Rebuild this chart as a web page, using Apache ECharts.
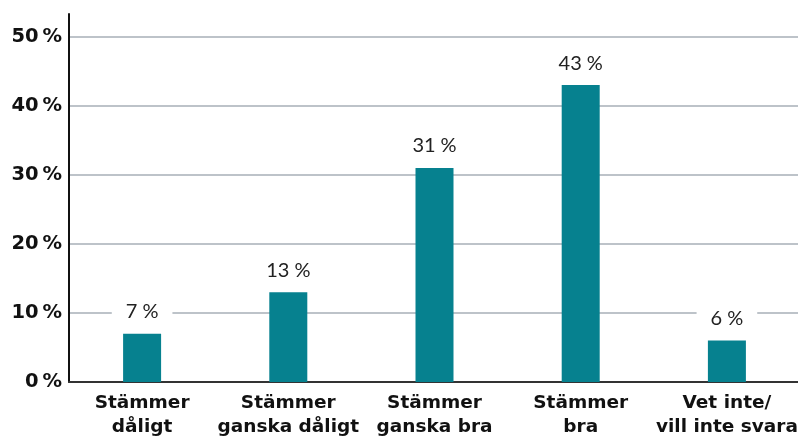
<!DOCTYPE html>
<html>
<head>
<meta charset="utf-8">
<script src="https://cdn.jsdelivr.net/npm/echarts@6/dist/echarts.min.js"></script>
<style>html,body{margin:0;padding:0;background:#fff}#c{width:798px;height:437px}</style>
</head>
<body>
<div id="c"></div>
<script>
const categories = ['Stämmer\ndåligt', 'Stämmer\nganska dåligt', 'Stämmer\nganska bra', 'Stämmer\nbra', 'Vet inte/\nvill inte svara'];
const values = [7, 13, 31, 43, 6];
const yTicks = [0, 10, 20, 30, 40, 50];
const yMax = 53.3;

const chart = echarts.init(document.getElementById('c'), null, {renderer: 'canvas'});
const gridColors = yTicks.map(() => '#a7afb7').concat(['rgba(0,0,0,0)']);
chart.setOption({
  animation: false,
  grid: {left: 69, right: -2, top: 14, bottom: 55, containLabel: false, outerBoundsMode: 'none'},
  xAxis: {
    type: 'category',
    data: categories,
    axisLine: {show: true, lineStyle: {color: '#333', width: 2}},
    axisTick: {show: false},
    axisLabel: {
      interval: 0, margin: 9, color: '#111',
      fontFamily: 'DejaVu Sans', fontWeight: 'bold', fontSize: 18.5, lineHeight: 24
    }
  },
  yAxis: {
    type: 'value', min: 0, max: yMax, interval: 10,
    axisLine: {show: true, lineStyle: {color: '#111', width: 2}},
    axisTick: {show: false},
    splitLine: {show: true, lineStyle: {color: gridColors, width: 1.5}},
    axisLabel: {
      margin: 7, color: '#111', fontFamily: 'DejaVu Sans', fontWeight: 'bold', fontSize: 19.5,
      formatter: v => yTicks.includes(v) ? v + '\u202F%' : ''
    }
  },
  series: [{
    type: 'bar',
    data: values,
    barWidth: 38,
    itemStyle: {color: '#06818f'},
    label: {
      show: true, position: 'top', distance: 11,
      formatter: p => p.value + '\u202F%',
      color: '#222', fontFamily: 'Lato', fontWeight: 400, fontSize: 20,
      backgroundColor: '#fff', padding: [1, 14]
    }
  }]
});
</script>
</body>
</html>
